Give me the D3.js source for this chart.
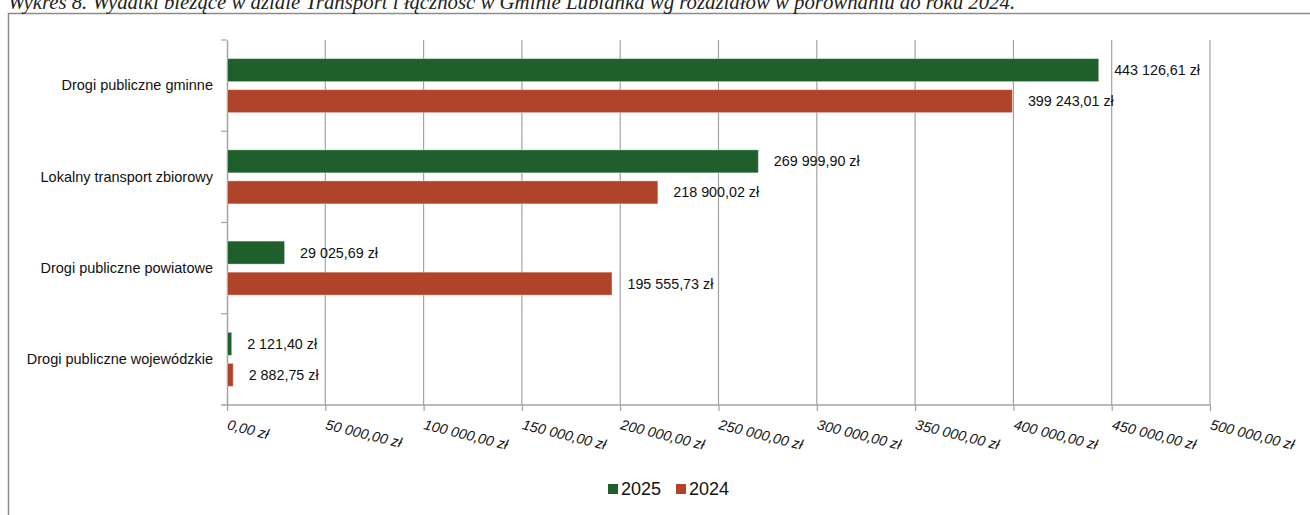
<html>
  <head>
    <meta charset="utf-8">
    <title>Wykres 8</title>
  </head>
  <style>
    body { margin: 0; background: #fff; }
  </style>
<body>

<script src="https://cdn.jsdelivr.net/npm/d3@7"></script>
<script>

var width  = 1310;
var height = 515;

var categories = ["Drogi publiczne gminne", "Lokalny transport zbiorowy", "Drogi publiczne powiatowe", "Drogi publiczne wojewódzkie"];
var series     = ["2025", "2024"];
var values2025 = [443126.61, 269999.90, 29025.69, 2121.40];
var values2024 = [399243.01, 218900.02, 195555.73, 2882.75];
var tickValues = [0, 50000, 100000, 150000, 200000, 250000, 300000, 350000, 400000, 450000, 500000];
var colors     = ["#1f5f2b", "#b0442a"];
var title = "Wykres 8. Wydatki bieżące w dziale Transport i łączność w Gminie Lubianka wg rozdziałów w porównaniu do roku 2024.";

// polski format kwot
var pl = d3.formatLocale({ decimal: ",", thousands: " ", grouping: [3], currency: ["", " zł"] });
var fmt = pl.format("$,.2f");

var svg = d3.select("body")
            .append("svg")
            .attr("width", width)
            .attr("height", height)
            .style("font-family", "'Liberation Sans', Arial, sans-serif");

// ramka i tytuł
svg.append("path")
   .attr("d", "M8.5," + height + "V13.5H" + width)
   .attr("fill", "none")
   .attr("stroke", "#8c8c8c")
   .attr("stroke-width", 1.5);

svg.append("text")
   .attr("x", 8)
   .attr("y", 9)
   .attr("font-family", "'Liberation Serif', 'Times New Roman', serif")
   .attr("font-style", "italic")
   .attr("font-size", 20.8)
   .attr("fill", "#222")
   .text(title);

var x = d3.scaleLinear().domain([0, 500000]).range([227, 1210]);
var y0 = d3.scaleBand().domain(categories).range([40, 405]);
var y1 = d3.scaleBand().domain(series).range([0, y0.bandwidth()]).paddingInner(0.26).paddingOuter(0.6);

var grid = "#a3a3a3";

// linie siatki
svg.append("g")
   .selectAll("line")
   .data(tickValues.slice(1))
   .enter()
   .append("line")
   .attr("x1", function(d){ return x(d); })
   .attr("x2", function(d){ return x(d); })
   .attr("y1", 40)
   .attr("y2", 405)
   .attr("stroke", grid)
   .attr("stroke-width", 1.2);

// oś X
var xAxis = svg.append("g")
   .attr("transform", "translate(0,405)")
   .call(d3.axisBottom(x).tickValues(tickValues).tickSize(6).tickSizeOuter(0).tickFormat(fmt));
xAxis.select(".domain").attr("stroke", grid).attr("stroke-width", 1.5).attr("d", "M221,0H" + x(500000));
xAxis.selectAll(".tick line").attr("stroke", grid).attr("stroke-width", 1.2);
xAxis.selectAll(".tick text")
     .attr("font-size", 14.3)
     .attr("font-style", "italic")
     .attr("fill", "#111")
     .attr("text-anchor", "start")
     .attr("dy", null)
     .attr("y", 0)
     .attr("transform", "translate(-1,24) rotate(14)");

// oś Y
var yAxis = svg.append("g")
   .attr("transform", "translate(227,0)")
   .call(d3.axisLeft(y0).tickSize(0).tickPadding(14));
yAxis.select(".domain").attr("stroke", grid).attr("stroke-width", 1.5);
yAxis.selectAll(".tick text").attr("font-size", 14.5).attr("fill", "#111");

// znaczniki granic kategorii
svg.append("g")
   .selectAll("line")
   .data(categories)
   .enter()
   .append("line")
   .attr("x1", 221)
   .attr("x2", 227)
   .attr("y1", function(d){ return y0(d); })
   .attr("y2", function(d){ return y0(d); })
   .attr("stroke", grid)
   .attr("stroke-width", 1.2);

// słupki
var rows = categories.map(function(c, i){
  return [{ cat: c, s: "2025", v: values2025[i], c: colors[0] },
          { cat: c, s: "2024", v: values2024[i], c: colors[1] }];
});
var flat = [].concat.apply([], rows);

svg.append("g")
   .selectAll("rect")
   .data(flat)
   .enter()
   .append("rect")
   .attr("x", x(0) + 0.5)
   .attr("y", function(d){ return y0(d.cat) + y1(d.s); })
   .attr("width", function(d){ return x(d.v) - x(0); })
   .attr("height", y1.bandwidth())
   .attr("fill", function(d){ return d.c; })
   .attr("stroke", "#ffffff")
   .attr("stroke-opacity", 0.35)
   .attr("stroke-width", 1);

// etykiety wartości
svg.append("g")
   .selectAll("text")
   .data(flat)
   .enter()
   .append("text")
   .attr("x", function(d){ return x(d.v) + 16; })
   .attr("y", function(d){ return y0(d.cat) + y1(d.s) + y1.bandwidth() / 2; })
   .attr("dy", "0.35em")
   .attr("font-size", 14.3)
   .attr("fill", "#111")
   .text(function(d){ return fmt(d.v); });

// legenda
var legend = svg.append("g").attr("transform", "translate(608,489)");
var items = legend.selectAll("g")
   .data(series)
   .enter()
   .append("g")
   .attr("transform", function(d,i){ return "translate(" + (i * 68) + ",0)"; });
items.append("rect")
   .attr("x", 0).attr("y", -5)
   .attr("width", 10).attr("height", 10)
   .attr("fill", function(d,i){ return colors[i]; });
items.append("text")
   .attr("x", 13)
   .attr("dy", "0.36em")
   .attr("font-size", 18)
   .attr("fill", "#111")
   .text(function(d){ return d; });

</script>

</body>
</html>
